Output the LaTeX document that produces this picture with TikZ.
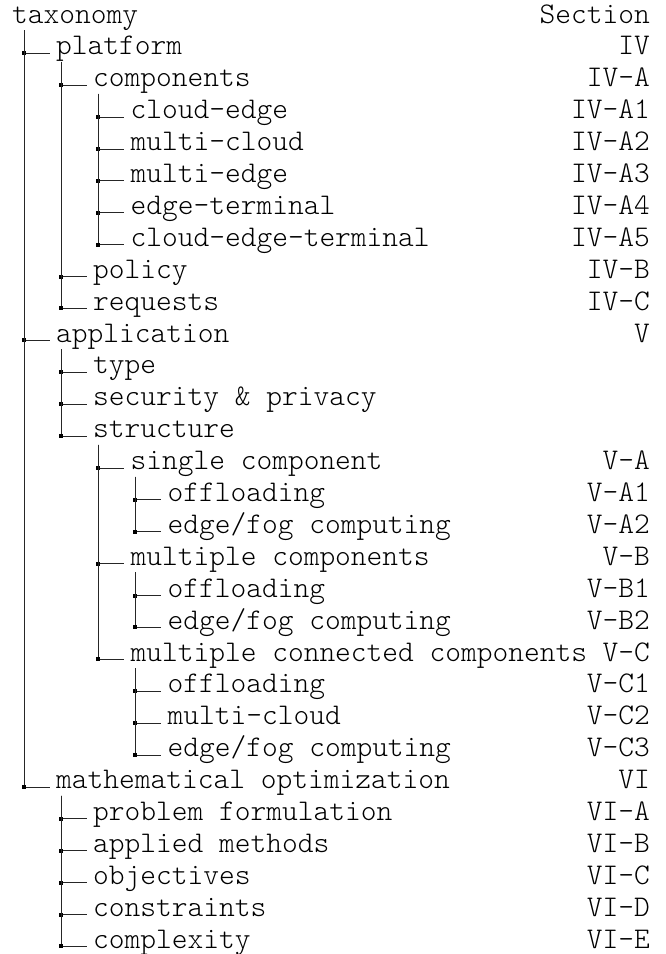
\documentclass[tikz,border=0pt]{standalone}
\begin{document}
\begin{tikzpicture}[x=1pt,y=-1pt,
  tfont/.style={font=\fontsize{30}{30}\selectfont\ttfamily\fontseries{l}\selectfont},
  lbl/.style={tfont,anchor=base west,inner sep=0pt},
  sec/.style={tfont,anchor=base east,inner sep=0pt},
  branch/.style={line width=0.8pt,black!85},
  knot/.style={fill=black,rectangle,inner sep=0pt,minimum size=4pt},
  ]
\useasboundingbox (0,0) rectangle (665,954);
% labels
\node[lbl] (t0)  at (12,23)      {taxonomy};
\node[lbl] (t1)  at (56,54.9)    {platform};
\node[lbl] (t2)  at (93,86.8)    {components};
\node[lbl] (t3)  at (130.3,118.7) {cloud-edge};
\node[lbl] (t4)  at (130.3,150.6) {multi-cloud};
\node[lbl] (t5)  at (130.3,182.5) {multi-edge};
\node[lbl] (t6)  at (130.3,214.4) {edge-terminal};
\node[lbl] (t7)  at (130.3,246.3) {cloud-edge-terminal};
\node[lbl] (t8)  at (93,278.2)   {policy};
\node[lbl] (t9)  at (93,310.1)   {requests};
\node[lbl] (t10) at (56,342)     {application};
\node[lbl] (t11) at (93,373.9)   {type};
\node[lbl] (t12) at (93,405.8)   {security \& privacy};
\node[lbl] (t13) at (93,437.7)   {structure};
\node[lbl] (t14) at (130.3,469.6) {single component};
\node[lbl] (t15) at (167.3,501.5) {offloading};
\node[lbl] (t16) at (167.3,533.4) {edge/fog computing};
\node[lbl] (t17) at (130.3,565.3) {multiple components};
\node[lbl] (t18) at (167.3,597.2) {offloading};
\node[lbl] (t19) at (167.3,629.1) {edge/fog computing};
\node[lbl] (t20) at (130.3,661)   {multiple connected components};
\node[lbl] (t21) at (167.3,692.9) {offloading};
\node[lbl] (t22) at (167.3,724.8) {multi-cloud};
\node[lbl] (t23) at (167.3,756.7) {edge/fog computing};
\node[lbl] (t24) at (56,788.6)   {mathematical optimization};
\node[lbl] (t25) at (93,820.5)   {problem formulation};
\node[lbl] (t26) at (93,852.4)   {applied methods};
\node[lbl] (t27) at (93,884.3)   {objectives};
\node[lbl] (t28) at (93,916.2)   {constraints};
\node[lbl] (t29) at (93,948.1)   {complexity};
% sections
\node[sec] (s0)  at (650,23)    {Section};
\node[sec] (s1)  at (650,54.9)  {IV};
\node[sec] (s2)  at (650,86.8)  {IV-A};
\node[sec] (s3)  at (650,118.7) {IV-A1};
\node[sec] (s4)  at (650,150.6) {IV-A2};
\node[sec] (s5)  at (650,182.5) {IV-A3};
\node[sec] (s6)  at (650,214.4) {IV-A4};
\node[sec] (s7)  at (650,246.3) {IV-A5};
\node[sec] (s8)  at (650,278.2) {IV-B};
\node[sec] (s9)  at (650,310.1) {IV-C};
\node[sec] (s10) at (650,342)   {V};
\node[sec] (s14) at (650,469.6) {V-A};
\node[sec] (s15) at (650,501.5) {V-A1};
\node[sec] (s16) at (650,533.4) {V-A2};
\node[sec] (s17) at (650,565.3) {V-B};
\node[sec] (s18) at (650,597.2) {V-B1};
\node[sec] (s19) at (650,629.1) {V-B2};
\node[sec] (s20) at (650,661)   {V-C};
\node[sec] (s21) at (650,692.9) {V-C1};
\node[sec] (s22) at (650,724.8) {V-C2};
\node[sec] (s23) at (650,756.7) {V-C3};
\node[sec] (s24) at (650,788.6) {VI};
\node[sec] (s25) at (650,820.5) {VI-A};
\node[sec] (s26) at (650,852.4) {VI-B};
\node[sec] (s27) at (650,884.3) {VI-C};
\node[sec] (s28) at (650,916.2) {VI-D};
\node[sec] (s29) at (650,948.1) {VI-E};
% connectors
\foreach \c in {t1,t10,t24}
  \draw[branch] ([shift={(12,7)}]t0.base west) |- node[pos=0.5,knot]{} ([shift={(-6,-1.7)}]\c.base west);
\foreach \p/\c in {t1/t2,t1/t8,t1/t9,
                   t2/t3,t2/t4,t2/t5,t2/t6,t2/t7,
                   t10/t11,t10/t12,t10/t13,
                   t13/t14,t13/t17,t13/t20,
                   t14/t15,t14/t16,
                   t17/t18,t17/t19,
                   t20/t21,t20/t22,t20/t23,
                   t24/t25,t24/t26,t24/t27,t24/t28,t24/t29}
  \draw[branch] ([shift={(5,7)}]\p.base west) |- node[pos=0.5,knot]{} ([shift={(-6,-1.7)}]\c.base west);
\end{tikzpicture}
\end{document}
